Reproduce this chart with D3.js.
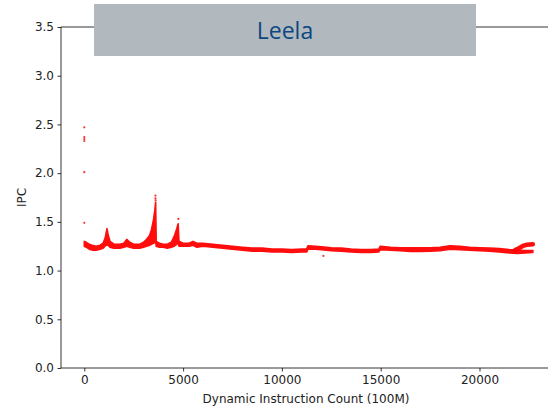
<!DOCTYPE html>
<html>
<head>
<meta charset="utf-8">
<script src="https://cdn.jsdelivr.net/npm/d3@7"></script>
<style>
  html, body { margin: 0; padding: 0; background: #fff; }
  svg { display: block; }
  .tick text { font-family: "DejaVu Sans", sans-serif; font-size: 12px; fill: #222; }
</style>
</head>
<body>
<svg id="chart" width="548" height="406"></svg>
<script>
// ---- data ----
const titleText = "Leela";
const xLabel = "Dynamic Instruction Count (100M)";
const yLabel = "IPC";
const xTicks = [0, 5000, 10000, 15000, 20000];
const yTicks = [0.0, 0.5, 1.0, 1.5, 2.0, 2.5, 3.0, 3.5];

// main dense band of samples: instruction count, lower and upper edge of the cloud
const instr = [0,100,250,400,600,800,950,1050,1100,1150,1200,1300,1500,1800,2000,2150,2300,2500,2800,3000,3150,3300,3400,3500,3570,3610,3640,3800,4000,4200,4400,4550,4680,4750,4790,5000,5300,5500,5700,6000,6500,7000,7500,8000,8500,9000,9500,10000,10500,11000,11250,11320,11700,12000,12500,13000,13500,14000,14500,14900,14980,15500,16000,16500,17000,17500,18000,18500,19000,19500,20000,20500,21000,21500,21900,22300,22700];
const ipcLow  = [1.25,1.24,1.22,1.21,1.21,1.22,1.23,1.25,1.26,1.26,1.26,1.24,1.23,1.23,1.24,1.25,1.24,1.23,1.23,1.24,1.25,1.26,1.27,1.28,1.29,1.30,1.25,1.24,1.24,1.23,1.24,1.25,1.27,1.29,1.25,1.25,1.25,1.26,1.24,1.25,1.24,1.23,1.22,1.21,1.20,1.20,1.19,1.19,1.185,1.19,1.19,1.22,1.22,1.215,1.205,1.20,1.19,1.185,1.185,1.19,1.215,1.21,1.205,1.195,1.195,1.20,1.205,1.22,1.215,1.21,1.205,1.20,1.19,1.18,1.175,1.18,1.185];
const ipcHigh = [1.30,1.29,1.27,1.26,1.25,1.26,1.28,1.33,1.38,1.43,1.37,1.30,1.27,1.27,1.28,1.32,1.29,1.27,1.27,1.29,1.32,1.36,1.42,1.52,1.62,1.70,1.30,1.28,1.27,1.27,1.29,1.35,1.43,1.48,1.30,1.28,1.28,1.30,1.28,1.28,1.27,1.26,1.25,1.24,1.23,1.23,1.22,1.22,1.215,1.22,1.22,1.255,1.25,1.245,1.235,1.23,1.22,1.215,1.215,1.22,1.25,1.24,1.235,1.235,1.235,1.235,1.24,1.255,1.25,1.24,1.235,1.23,1.225,1.215,1.21,1.205,1.205];

// upper branch that separates near the end of the run
const tailInstr = [21800, 22000, 22200, 22400, 22700];
const tailIpc   = [1.21, 1.23, 1.255, 1.265, 1.27];

// isolated samples
const outInstr = [0, 0, 0, 0, 0, 0, 3600, 3600, 3610, 4760, 12100];
const outIpc   = [2.47, 2.37, 2.35, 2.33, 2.01, 1.49, 1.77, 1.74, 1.72, 1.53, 1.15];

// ---- layout ----
const svg = d3.select("#chart");
const padL = 61, padT = 27, padB = 368;
const x = d3.scaleLinear().domain([-1179, 24000]).range([padL, padL + 25179 * 0.01976]);
const y = d3.scaleLinear().domain([0, 3.5]).range([padB, padT]);

const red = "#ff0000";

// band
const band = instr.map((d, i) => ({x: d, lo: ipcLow[i], hi: ipcHigh[i]}));
svg.append("path")
  .datum(band)
  .attr("d", d3.area().x(d => x(d.x)).y0(d => y(d.lo)).y1(d => y(d.hi)))
  .attr("fill", red)
  .attr("stroke", red)
  .attr("stroke-width", 1.6)
  .attr("stroke-linejoin", "round")
  .attr("opacity", 0.95);

// tail branch
const tail = tailInstr.map((d, i) => ({x: d, v: tailIpc[i]}));
svg.append("path")
  .datum(tail)
  .attr("d", d3.line().x(d => x(d.x)).y(d => y(d.v)))
  .attr("fill", "none")
  .attr("stroke", red)
  .attr("stroke-width", 4.5)
  .attr("stroke-linecap", "round")
  .attr("opacity", 0.95);

// outliers
svg.append("g").selectAll("circle")
  .data(outInstr.map((d, i) => ({x: d, v: outIpc[i]})))
  .join("circle")
  .attr("cx", d => x(d.x))
  .attr("cy", d => y(d.v))
  .attr("r", 1.1)
  .attr("fill", red)
  .attr("opacity", 0.8);

// axes
const xAxis = d3.axisBottom(x).tickValues(xTicks).tickFormat(d3.format("d")).tickSize(3.5).tickPadding(3.5);
const yAxis = d3.axisLeft(y).tickValues(yTicks).tickFormat(d3.format(".1f")).tickSize(3.5).tickPadding(3.5);

const gx = svg.append("g").attr("transform", `translate(0,${padB})`).call(xAxis);
const gy = svg.append("g").attr("transform", `translate(${padL},0)`).call(yAxis);
[gx, gy].forEach(g => {
  g.select(".domain").remove();
  g.selectAll(".tick line").attr("stroke", "#000").attr("stroke-width", 0.8);
});

// spines
svg.append("line").attr("x1", padL).attr("x2", 548).attr("y1", padB).attr("y2", padB)
  .attr("stroke", "#000").attr("stroke-width", 0.8);
svg.append("line").attr("x1", padL).attr("x2", 548).attr("y1", padT).attr("y2", padT)
  .attr("stroke", "#000").attr("stroke-width", 0.8);
svg.append("line").attr("x1", padL).attr("x2", padL).attr("y1", padT).attr("y2", padB)
  .attr("stroke", "#000").attr("stroke-width", 0.8);

// axis labels
svg.append("text")
  .attr("x", 306).attr("y", 403)
  .attr("text-anchor", "middle")
  .attr("font-family", "DejaVu Sans, sans-serif")
  .attr("font-size", 12)
  .attr("fill", "#222")
  .text(xLabel);
svg.append("text")
  .attr("transform", `translate(26,${(padT + padB) / 2}) rotate(-90)`)
  .attr("text-anchor", "middle")
  .attr("font-family", "DejaVu Sans, sans-serif")
  .attr("font-size", 12)
  .attr("fill", "#222")
  .text(yLabel);

// title banner
svg.append("rect")
  .attr("x", 94).attr("y", 4).attr("width", 382).attr("height", 52)
  .attr("fill", "#b1b9bf");
svg.append("text")
  .attr("x", 285).attr("y", 39)
  .attr("text-anchor", "middle")
  .attr("font-family", "Open Sans, Noto Sans, sans-serif")
  .attr("font-size", 23)
  .attr("fill", "#0d4680")
  .text(titleText);
</script>
</body>
</html>
